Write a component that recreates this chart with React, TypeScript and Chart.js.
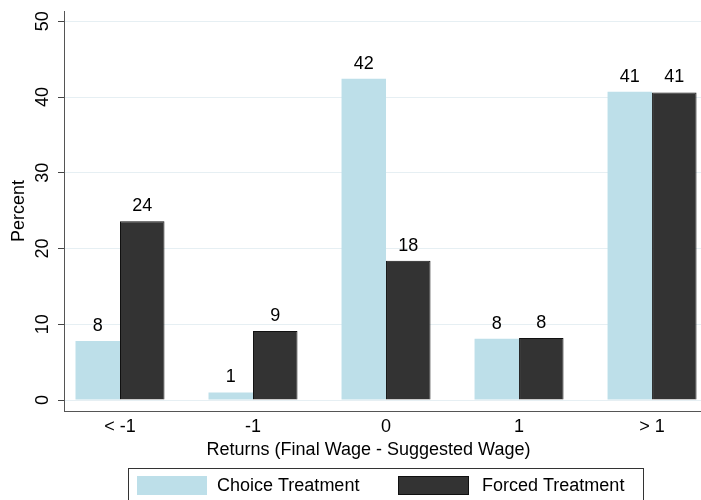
import React, { useEffect, useRef } from "react";
import { Chart, registerables } from "chart.js";

Chart.register(...registerables);

const categories = ["< -1", "-1", "0", "1", "> 1"];
const choiceValues = [7.8, 1.0, 42.4, 8.1, 40.7];
const forcedValues = [23.6, 9.1, 18.4, 8.2, 40.6];
const yTicks = [0, 10, 20, 30, 40, 50];
const seriesNames = ["Choice Treatment", "Forced Treatment"];
const xTitle = "Returns (Final Wage - Suggested Wage)";
const yTitle = "Percent";

const LIGHT = "#bddfe9";
const DARK = "#333333";
const FONT = "18px 'Liberation Sans', Arial, Helvetica, sans-serif";

export default function App() {
  const ref = useRef<HTMLCanvasElement | null>(null);

  useEffect(() => {
    document.body.style.margin = "0";
    const canvas = ref.current!;
    const textPlugin = {
      id: "stataText",
      afterDraw(chart: any) {
        const ctx = chart.ctx as CanvasRenderingContext2D;
        const xs = chart.scales.x;
        const ys = chart.scales.y;
        ctx.save();
        ctx.fillStyle = "#000";
        ctx.font = FONT;
        // y tick labels rotated
        yTicks.forEach((v) => {
          const py = ys.getPixelForValue(v);
          ctx.save();
          ctx.translate(48, py);
          ctx.rotate(-Math.PI / 2);
          ctx.textAlign = "center";
          ctx.textBaseline = "alphabetic";
          ctx.fillText(String(v), 0, 0);
          ctx.restore();
        });
        // y title
        ctx.save();
        ctx.translate(24, (chart.chartArea.top + chart.chartArea.bottom) / 2);
        ctx.rotate(-Math.PI / 2);
        ctx.textAlign = "center";
        ctx.textBaseline = "alphabetic";
        ctx.fillText(yTitle, 0, 0);
        ctx.restore();
        // x tick labels
        ctx.textAlign = "center";
        ctx.textBaseline = "alphabetic";
        categories.forEach((c, i) => {
          ctx.fillText(c, xs.getPixelForValue(i), 432);
        });
        // x title
        ctx.fillText(xTitle, (chart.chartArea.left + chart.chartArea.right) / 2 - 14, 455);
        // data labels
        chart.data.datasets.forEach((ds: any, di: number) => {
          const meta = chart.getDatasetMeta(di);
          meta.data.forEach((el: any, i: number) => {
            const v = ds.data[i].y;
            ctx.fillText(String(Math.round(v)), el.x, el.y - 10);
          });
        });
        // legend
        ctx.strokeStyle = "#333";
        ctx.lineWidth = 1;
        ctx.strokeRect(128.5, 468.5, 515, 40);
        ctx.fillStyle = LIGHT;
        ctx.fillRect(137, 476, 70, 19);
        ctx.fillStyle = DARK;
        ctx.fillRect(398, 476, 71, 19);
        ctx.strokeStyle = "#111";
        ctx.strokeRect(398.5, 476.5, 70, 18);
        ctx.fillStyle = "#000";
        ctx.textAlign = "left";
        ctx.fillText(seriesNames[0], 217, 491);
        ctx.fillText(seriesNames[1], 482, 491);
        ctx.restore();
      },
    };

    const chart = new Chart(canvas, {
      type: "bar",
      data: {
        datasets: [
          {
            label: seriesNames[0],
            data: choiceValues.map((v, i) => ({ x: i, y: v })),
            backgroundColor: LIGHT,
            borderColor: LIGHT,
            borderWidth: 0,
          },
          {
            label: seriesNames[1],
            data: forcedValues.map((v, i) => ({ x: i, y: v })),
            backgroundColor: DARK,
            borderColor: "#111",
            borderWidth: 1,
          },
        ],
      },
      options: {
        responsive: false,
        animation: false,
        devicePixelRatio: 1,
        layout: { padding: { top: 11, left: 0, right: 0, bottom: 0 } },
        categoryPercentage: 0.669,
        barPercentage: 1.0,
        plugins: { legend: { display: false }, tooltip: { enabled: false } },
        scales: {
          x: {
            type: "linear",
            min: -0.421,
            max: 4.368,
            offset: false,
            afterBuildTicks: (s: any) => {
              s.ticks = categories.map((_, i) => ({ value: i }));
            },
            grid: { display: false, offset: false },
            ticks: { display: false },
            border: { display: true, color: "#555", width: 1 },
            afterFit: (s: any) => {
              s.height = 89;
            },
          },
          y: {
            type: "linear",
            min: -1.45,
            max: 51.36,
            afterBuildTicks: (s: any) => {
              s.ticks = yTicks.map((v) => ({ value: v }));
            },
            afterFit: (s: any) => {
              s.width = 64;
            },
            ticks: { display: false },
            grid: {
              color: "#e6eff3",
              lineWidth: 1,
              drawTicks: true,
              tickLength: 6,
              tickColor: "#444",
            },
            border: { display: true, color: "#555", width: 1 },
          },
        },
      } as any,
      plugins: [textPlugin],
    });
    return () => chart.destroy();
  }, []);

  return <canvas ref={ref} width={701} height={500} style={{ display: "block" }} />;
}
